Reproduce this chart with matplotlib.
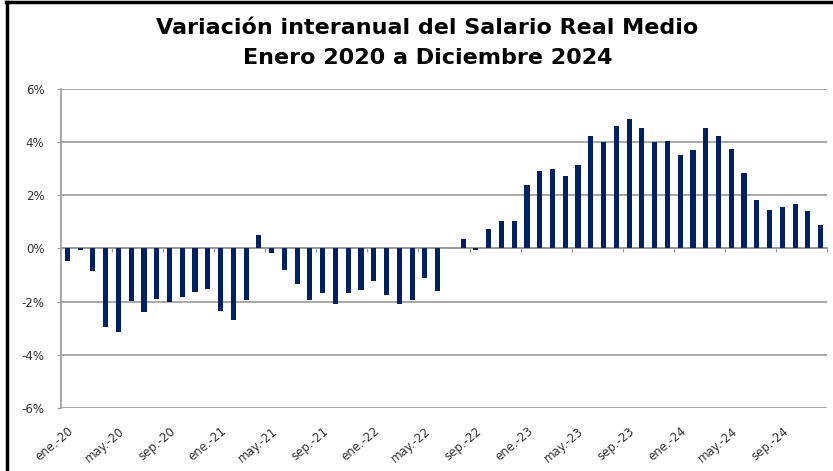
import matplotlib.pyplot as plt
from matplotlib.lines import Line2D
import numpy as np

# Datos: variación interanual (%) del salario real medio, ene-2020 a dic-2024
meses = ['ene', 'feb', 'mar', 'abr', 'may', 'jun', 'jul', 'ago', 'sep', 'oct', 'nov', 'dic']
anios = ['20', '21', '22', '23', '24']
etiquetas = [f"{m}.-{a}" for a in anios for m in meses]

variacion = [
    -0.48, -0.04, -0.86, -2.96, -3.14, -1.96, -2.39, -1.89, -2.01, -1.81, -1.65, -1.51,  # 2020
    -2.34, -2.69, -1.92, 0.49, -0.18, -0.82, -1.35, -1.92, -1.69, -2.08, -1.69, -1.55,   # 2021
    -1.23, -1.74, -2.08, -1.92, -1.12, -1.61, 0.0, 0.36, -0.04, 0.74, 1.04, 1.04,        # 2022
    2.38, 2.92, 2.99, 2.73, 3.14, 4.24, 4.01, 4.59, 4.86, 4.55, 4.01, 4.06,              # 2023
    3.50, 3.69, 4.52, 4.24, 3.76, 2.84, 1.81, 1.43, 1.55, 1.66, 1.40, 0.87,              # 2024
]

azul = '#002060'
gris = '#9a9a9a'

fig = plt.figure(figsize=(8.33, 4.71), dpi=100)
ax = fig.add_axes([0.0732, 0.1338, 0.9196, 0.6772])

x = np.arange(len(variacion))
ax.bar(x, variacion, width=0.4, color=azul, zorder=3)

ax.set_xlim(-0.5, len(variacion) - 0.5)
ax.set_ylim(-6, 6)
ax.set_yticks(np.arange(-6, 7, 2))
ax.set_yticklabels([f"{v}%" for v in range(-6, 7, 2)], fontsize=8.5, color='#333333')
ax.yaxis.grid(True, color=gris, linewidth=1.2, zorder=0)
ax.tick_params(axis='y', length=3, color=gris, pad=9)

for lado in ['top', 'right']:
    ax.spines[lado].set_visible(False)
ax.spines['left'].set_color(gris)
ax.spines['left'].set_linewidth(1.2)

# eje de categorías cruzando en 0
ax.spines['bottom'].set_position(('data', 0))
ax.spines['bottom'].set_color(gris)
ax.spines['bottom'].set_linewidth(1.2)
ax.set_xticks(np.arange(3.5, len(variacion), 4))
ax.set_xticklabels([])
ax.tick_params(axis='x', length=3, color=gris, direction='out')

# etiquetas abajo
sec = ax.secondary_xaxis(0)
sec.set_xticks(x[::4])
sec.set_xticklabels(etiquetas[::4], rotation=40, ha='right', va='top',
                    rotation_mode='anchor', fontsize=8.5, color='#333333')
sec.tick_params(length=0, pad=12)
sec.spines['bottom'].set_visible(False)

fig.text(0.513, 0.94, 'Variación interanual del Salario Real Medio', ha='center', va='center',
         fontsize=16, fontweight='bold')
fig.text(0.513, 0.877, 'Enero 2020 a Diciembre 2024', ha='center', va='center',
         fontsize=16, fontweight='bold')

# marco negro (izquierda y arriba)
fig.add_artist(Line2D([0.008, 0.008], [0, 0.996], color='black', linewidth=2.5))
fig.add_artist(Line2D([0.007, 1.0], [0.996, 0.996], color='black', linewidth=2.5))

fig.savefig('out.png', dpi=100)
